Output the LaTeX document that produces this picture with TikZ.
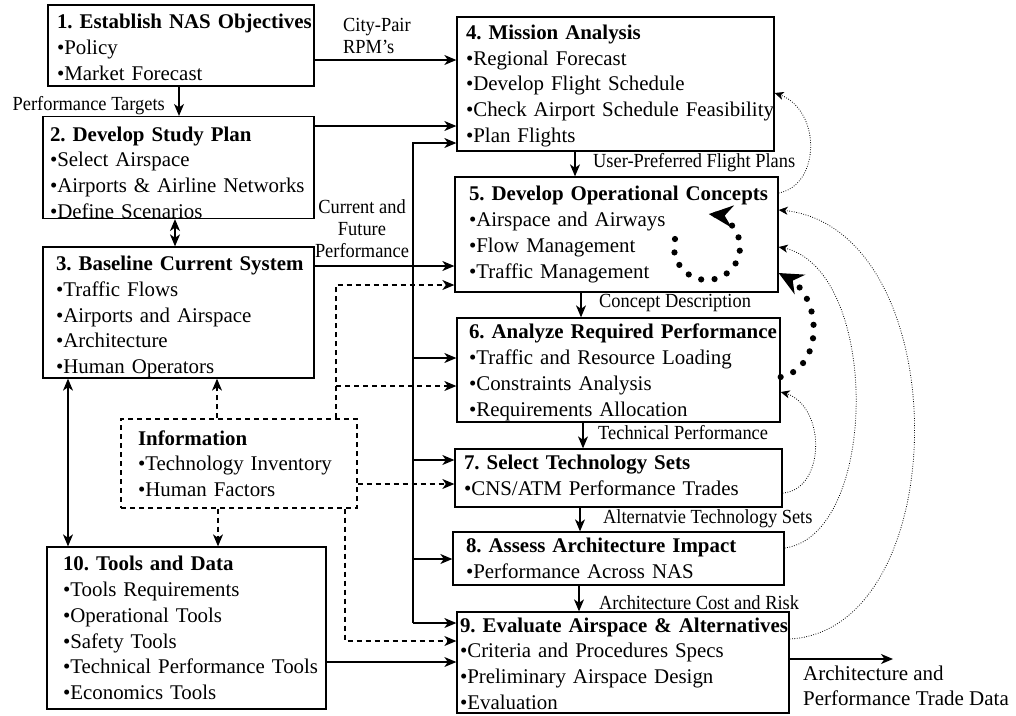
\documentclass[tikz,border=0pt]{standalone}
\usepackage{fontspec}
\setmainfont{Liberation Serif}
\newfontfamily\lblfamily{Liberation Serif}[FakeStretch=0.92]
\usetikzlibrary{arrows.meta,bending}
\frenchspacing

% one bullet line and one bold heading line inside a process box;
% the optional strut height of the heading sets where the text block sits
\newcommand\bitm[1]{\mbox{\textbullet#1}}
\newcommand\boxhead[2][14.5pt]{\mbox{\rule{0pt}{#1}\bfseries #2}}

\begin{document}
\begin{tikzpicture}[x=1pt,y=-1pt,
  >={Stealth[length=12pt,width=10pt,inset=3.5pt]},
  procbox/.style={draw=black, line width=1.3pt, inner ysep=0pt, align=left,
    font=\fontsize{20.9}{25.7}\selectfont},
  infobox/.style={procbox, dash pattern=on 5pt off 4pt},
  conn/.style={->, line width=1.2pt},
  dconn/.style={->, line width=1.2pt, dash pattern=on 5pt off 4pt},
  dotarr/.style={line width=0.8pt, dash pattern=on 0.8pt off 1.6pt,
    -{Stealth[length=9pt,width=8pt,inset=2.5pt]}},
  bigdots/.style={line width=6.2pt, dash pattern=on 0pt off 13.5pt, line cap=round,
    -{Stealth[length=24pt,width=22pt,inset=8pt]}},
  lbl/.style={font=\lblfamily\fontsize{20}{22}\selectfont, inner sep=0pt},
  outlbl/.style={font=\fontsize{21}{25}\selectfont, inner sep=0pt, align=left}]

\useasboundingbox (0,0) rectangle (1016,715);

% ---- left column ----
\node[procbox, text width=248pt, inner xsep=9pt, minimum height=81pt] (b1) at (181,45.5)
  {\boxhead[18.5pt]{1. Establish NAS Objectives}\\ \bitm{Policy}\\ \bitm{Market Forecast}};
\node[procbox, text width=257pt, inner xsep=7pt, minimum height=99pt] (b2) at (178.5,167.5)
  {\boxhead[24.5pt]{2. Develop Study Plan}\\ \bitm{Select Airspace}\\ \bitm{Airports \& Airline Networks}\\ \bitm{Define Scenarios}};
\node[procbox, text width=245pt, inner xsep=13pt, minimum height=131pt] (b3) at (178.5,312.5)
  {\boxhead[23.5pt]{3. Baseline Current System}\\ \bitm{Traffic Flows}\\ \bitm{Airports and Airspace}\\ \bitm{Architecture}\\ \bitm{Human Operators}};
\node[infobox, text width=202pt, inner xsep=17pt, minimum height=89pt] (info) at (239,463.5)
  {\boxhead{Information}\\ \bitm{Technology Inventory}\\ \bitm{Human Factors}};
\node[procbox, text width=247pt, inner xsep=16pt, minimum height=162pt] (b10) at (186.5,628)
  {\boxhead[12pt]{10. Tools and Data}\\ \bitm{Tools Requirements}\\ \bitm{Operational Tools}\\ \bitm{Safety Tools}\\ \bitm{Technical Performance Tools}\\ \bitm{Economics Tools}};

% ---- right column ----
\node[procbox, text width=299pt, inner xsep=9pt, minimum height=134pt] (b4) at (615.5,84)
  {\boxhead[18.5pt]{4. Mission Analysis}\\ \bitm{Regional Forecast}\\ \bitm{Develop Flight Schedule}\\ \bitm{Check Airport Schedule Feasibility}\\ \bitm{Plan Flights}};
\node[procbox, text width=295pt, inner xsep=14pt, minimum height=115pt] (b5) at (616.5,234.5)
  {\boxhead{5. Develop Operational Concepts}\\ \bitm{Airspace and Airways}\\ \bitm{Flow Management}\\ \bitm{Traffic Management}};
\node[procbox, text width=299pt, inner xsep=12pt, minimum height=104pt] (b6) at (618.5,370)
  {\boxhead[19.5pt]{6. Analyze Required Performance}\\ \bitm{Traffic and Resource Loading}\\ \bitm{Constraints Analysis}\\ \bitm{Requirements Allocation}};
\node[procbox, text width=309pt, inner xsep=9pt, minimum height=58pt] (b7) at (618.5,478)
  {\boxhead{7. Select Technology Sets}\\ \bitm{CNS/ATM Performance Trades\rule[-5pt]{0pt}{5pt}}};
\node[procbox, text width=305pt, inner xsep=13pt, minimum height=53pt] (b8) at (618.5,558.5)
  {\boxhead{8. Assess Architecture Impact}\\ \bitm{Performance Across NAS}};
\node[procbox, text width=326pt, inner xsep=3pt, minimum height=101pt] (b9) at (623,662.5)
  {\boxhead[16.5pt]{9. Evaluate Airspace \& Alternatives}\\ \bitm{Criteria and Procedures Specs}\\ \bitm{Preliminary Airspace Design}\\ \bitm{Evaluation}};

% ---- connectors between the left boxes ----
\draw[conn] (b1.east |- 0,60) -- (b4.west |- 0,60);
\draw[conn] (b1.south -| 179,0) -- (b2.north -| 179,0);
\draw[conn] (b2.east |- 0,126) -- (b4.west |- 0,126);
\draw[conn] (b3.east |- 0,266) -- (b5.west |- 0,266);
\draw[conn, <->] (b2.south -| 175,0) -- (b3.north -| 175,0);
\draw[conn, <->] (b3.south -| 68,0) -- (b10.north -| 68,0);
\draw[conn] (b10.east |- 0,662) -- (b9.west |- 0,662);

% ---- distribution trunk feeding steps 4 to 9 ----
\coordinate (trt) at (413,143);
\coordinate (trb) at (413,623);
\draw[conn] (trb) -- (trt) -- (b4.west |- trt);
\draw[conn] (trt |- 0,358) -- (b6.west |- 0,358);
\draw[conn] (trt |- 0,460) -- (b7.west |- 0,460);
\draw[conn] (trt |- 0,559) -- (b8.west |- 0,559);
\draw[conn] (trb) -- (b9.west |- trb);

% ---- information flows (dashed) ----
\coordinate (dj) at (336,386);
\draw[dconn] (info.north -| 217,0) -- (b3.south -| 217,0);
\draw[dconn] (info.north -| 336,0) |- (b5.west |- 0,285);
\draw[dconn] (dj) -- (b6.west |- dj);
\draw[dconn] (info.east |- 0,484) -- (b7.west |- 0,484);
\draw[dconn] (info.south -| 345,0) |- (b9.west |- 0,641);
\draw[dconn] (info.south -| 218,0) -- (b10.north -| 218,0);

% ---- main sequence 4 -> 9 ----
\draw[conn] (b4.south -| 575,0) -- (b5.north -| 575,0);
\draw[conn] (b5.south -| 581,0) -- (b6.north -| 581,0);
\draw[conn] (b6.south -| 583,0) -- (b7.north -| 583,0);
\draw[conn] (b7.south -| 580,0) -- (b8.north -| 580,0);
\draw[conn] (b8.south -| 579,0) -- (b9.north -| 579,0);
\coordinate (outend) at (893,659);
\draw[conn] (b9.east |- outend) -- (outend);

% ---- feedback loops (dotted) ----
\draw[dotarr] (b5.east |- 0,193) .. controls (822,185) and (822,105) .. (b4.east |- 0,93);
\draw[dotarr] (b7.east |- 0,493) .. controls (827,490) and (827,400) .. (b6.east |- 0,392);
\draw[dotarr] (b8.east |- 0,548) .. controls (881,535) and (881,260) .. (b5.east |- 0,247);
\draw[dotarr] (b9.east |- 0,639) .. controls (958,630) and (958,220) .. (b5.east |- 0,210);
\draw[bigdots] (b6.east |- 0,377) .. controls (826,368) and (824,288) .. (b5.east |- 0,273);
\draw[bigdots] plot[domain=-166:-447, samples=50, variable=\t] ({707+33*cos(\t)},{247+33*sin(\t)});

% ---- labels ----
\node[lbl, anchor=west, align=left] (lcity) at (343,36) {City-Pair\\RPM’s};
\node[lbl, anchor=east] (lperf) at (165,106) {Performance Targets};
\node[lbl, align=center] (lcur) at (362,229) {Current and\\Future\\Performance};
\node[lbl, anchor=west] (lufp) at (593,163) {User-Preferred Flight Plans};
\node[lbl, anchor=west] (lcon) at (599,303) {Concept Description};
\node[lbl, anchor=west] (ltec) at (598,433) {Technical Performance};
\node[lbl, anchor=west] (lalt) at (603,519) {Alternatvie Technology Sets};
\node[lbl, anchor=west] (lacr) at (599,603) {Architecture Cost and Risk};
\node[outlbl, anchor=west] (lout) at (803,686) {Architecture and\\Performance Trade Data};

\end{tikzpicture}
\end{document}
